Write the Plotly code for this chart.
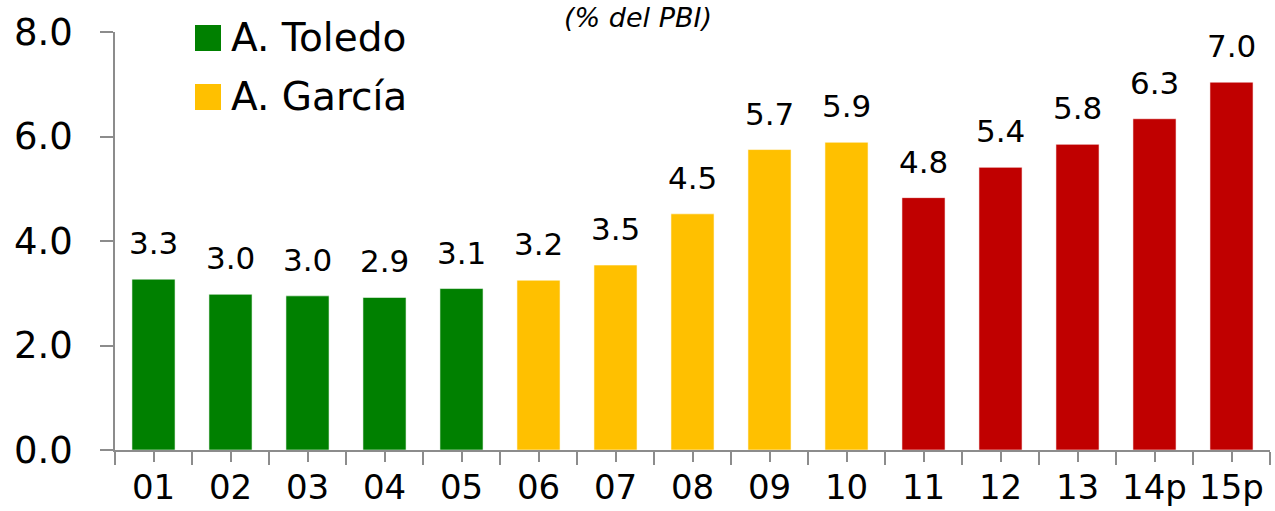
import plotly.graph_objects as go

categories = ["01", "02", "03", "04", "05", "06", "07", "08", "09", "10", "11", "12", "13", "14p", "15p"]
values = [3.27, 2.98, 2.95, 2.92, 3.09, 3.25, 3.54, 4.52, 5.75, 5.89, 4.83, 5.41, 5.85, 6.34, 7.04]
labels = ["3.3", "3.0", "3.0", "2.9", "3.1", "3.2", "3.5", "4.5", "5.7", "5.9", "4.8", "5.4", "5.8", "6.3", "7.0"]
groups = ["A. Toledo"] * 5 + ["A. García"] * 5 + ["Humala"] * 5
group_colors = {"A. Toledo": "#008000", "A. García": "#FFC000", "Humala": "#C00000"}
legend_names = ["A. Toledo", "A. García"]
y_ticks = [0, 2, 4, 6, 8]
y_ticktext = ["0.0", "2.0", "4.0", "6.0", "8.0"]
title_text = "(% del PBI)"

FONT = "DejaVu Sans"
W, H = 1275, 511
ML, MR, MT, MB = 115, 5, 32, 61

fig = go.Figure()
xs = list(range(len(categories)))
for g in ["A. Toledo", "A. García", "Humala"]:
    idx = [i for i, gg in enumerate(groups) if gg == g]
    fig.add_trace(go.Bar(
        x=[xs[i] for i in idx],
        y=[values[i] for i in idx],
        name=g,
        marker=dict(color=group_colors[g], line=dict(color="rgba(255,255,255,0.55)", width=1)),
        width=0.56,
        showlegend=False,
        hoverinfo="skip",
    ))

annotations = []
for i, (v, t) in enumerate(zip(values, labels)):
    annotations.append(dict(
        x=xs[i], y=v, xref="x", yref="y", text=t, showarrow=False,
        yanchor="bottom", xanchor="center", yshift=16,
        font=dict(family=FONT, size=31, color="#000000"),
    ))

# manual legend (large squares); coordinates in screen pixels
pw = W - ML - MR
ph = H - MT - MB
def px_to_paper_x(px):
    return (px - ML) / pw
def px_to_paper_y(py):
    return (H - MB - py) / ph

shapes = []
legend_rows = [(25, 51), (84, 110)]
for name, (y0, y1) in zip(legend_names, legend_rows):
    shapes.append(dict(
        type="rect", xref="paper", yref="paper",
        x0=px_to_paper_x(195), x1=px_to_paper_x(221),
        y0=px_to_paper_y(y1), y1=px_to_paper_y(y0),
        fillcolor=group_colors[name], line=dict(width=0),
    ))
    annotations.append(dict(
        x=px_to_paper_x(229), y=px_to_paper_y((y0 + y1) / 2),
        xref="paper", yref="paper", text=name, showarrow=False,
        xanchor="left", yanchor="middle",
        font=dict(family=FONT, size=39, color="#000000"),
    ))

fig.update_layout(
    width=W, height=H,
    margin=dict(l=ML, r=MR, t=MT, b=MB, pad=0, autoexpand=False),
    paper_bgcolor="white", plot_bgcolor="white",
    title=dict(text=title_text, x=638 / W, xref="container", xanchor="center",
               y=1 - 18 / H, yref="container", yanchor="middle",
               font=dict(family=FONT, size=27, color="#000000", style="italic")),
    bargap=0.44,
    showlegend=False,
    annotations=annotations,
    shapes=shapes,
)

fig.update_xaxes(
    range=[-0.5, len(categories) - 0.5],
    tickmode="array", tickvals=xs, ticktext=categories,
    ticks="outside", ticklen=10, tickwidth=1.5, tickcolor="#8c8c8c",
    minor=dict(tick0=-0.5, dtick=1, ticks="outside", ticklen=13, tickwidth=1.5, tickcolor="#8c8c8c", showgrid=False),
    showline=True, linecolor="#8c8c8c", linewidth=1.5,
    showgrid=False, zeroline=False, automargin=False,
    tickfont=dict(family=FONT, size=34, color="#000000"),
    ticklabelstandoff=-4,
)
fig.update_yaxes(
    range=[0, 8],
    tickmode="array", tickvals=y_ticks, ticktext=y_ticktext,
    ticks="outside", ticklen=13, tickwidth=1.5, tickcolor="#8c8c8c",
    showline=True, linecolor="#8c8c8c", linewidth=1.5,
    showgrid=False, zeroline=False, automargin=False,
    tickfont=dict(family=FONT, size=37, color="#000000"),
    ticklabelstandoff=20,
)

fig.write_html(
    "out.html",
    config={"displayModeBar": False},
    post_script="document.body.style.margin='0';document.body.style.overflow='hidden';",
)
